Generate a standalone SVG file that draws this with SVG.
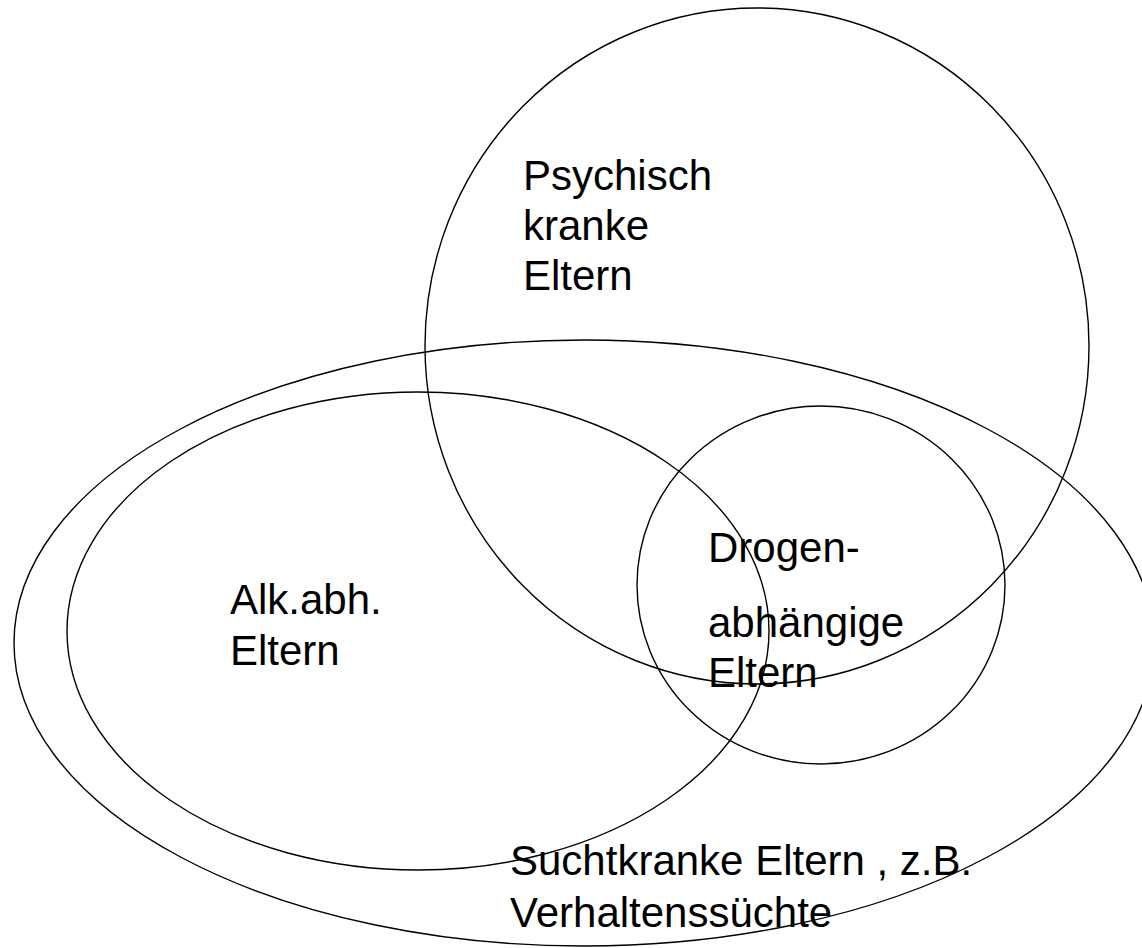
<svg xmlns="http://www.w3.org/2000/svg" width="1142" height="948" viewBox="0 0 1142 948">
<style>
.set{fill:none;stroke:#000;stroke-width:1.4}
.lbl{font-family:"Liberation Sans",Arial,sans-serif;font-size:42px;fill:#000}
</style>
<rect width="1142" height="948" fill="#fff"/>
<g id="sucht">
<ellipse class="set" cx="584" cy="643" rx="570" ry="303"/>
<text class="lbl" x="510" y="875">Suchtkranke Eltern , z.B.</text>
<text class="lbl" x="510" y="927">Verhaltenssüchte</text>
</g>
<g id="alk">
<ellipse class="set" cx="418" cy="631" rx="351" ry="239"/>
<text class="lbl" x="230" y="614">Alk.abh.</text>
<text class="lbl" x="230" y="665">Eltern</text>
</g>
<g id="psych">
<ellipse class="set" cx="757" cy="346" rx="332" ry="338"/>
<text class="lbl" x="523" y="190">Psychisch</text>
<text class="lbl" x="523" y="240">kranke</text>
<text class="lbl" x="523" y="290">Eltern</text>
</g>
<g id="drogen">
<ellipse class="set" cx="821" cy="585" rx="184" ry="179"/>
<text class="lbl" x="708" y="562">Drogen-</text>
<text class="lbl" x="708" y="637">abhängige</text>
<text class="lbl" x="708" y="687">Eltern</text>
</g>
<g id="connectors"/>
</svg>
